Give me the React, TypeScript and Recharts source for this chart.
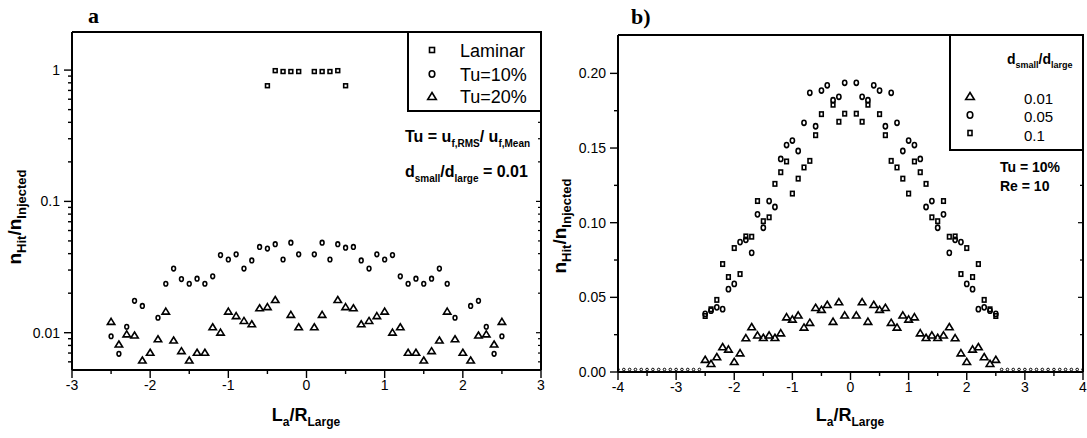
import React from "react";
import { ScatterChart, Scatter, XAxis, YAxis } from "recharts";

const FONT = "Arial, 'Liberation Sans', sans-serif";
const SERIF = "'Times New Roman', 'Liberation Serif', serif";

// ---------- panel a (log scale) ----------
const aPosX = [
  -2.5, -2.4, -2.3, -2.2, -2.1, -2.0, -1.9, -1.8, -1.7, -1.6, -1.5, -1.4, -1.3,
  -1.2, -1.1, -1.0, -0.9, -0.8, -0.7, -0.6, -0.5, -0.4, -0.3, -0.2, -0.1, 0,
  0.1, 0.2, 0.3, 0.4, 0.5, 0.6, 0.7, 0.8, 0.9, 1.0, 1.1, 1.2, 1.3, 1.4, 1.5,
  1.6, 1.7, 1.8, 1.9, 2.0, 2.1, 2.2, 2.3, 2.4, 2.5,
];
const aTu10 = [
  0.0094, 0.0069, 0.0111, 0.0175, 0.016, null, 0.013, 0.0236, 0.0308, 0.0256,
  0.0236, 0.0258, 0.0236, 0.0269, 0.039, 0.0361, 0.0395, 0.0308, 0.0355, 0.045,
  0.0437, 0.0472, 0.0361, 0.0485, 0.0395, null, 0.0395, 0.0485, 0.0361, 0.0472,
  0.0444, 0.045, 0.0355, 0.0308, 0.0395, 0.0361, 0.039, 0.0269, 0.0236, 0.0258,
  0.0236, 0.0258, 0.0308, 0.0236, 0.013, null, 0.016, 0.0175, 0.0111, 0.0069,
  0.0094,
];
const aTu20 = [
  0.0122, 0.0082, 0.0098, 0.0096, 0.0062, 0.0071, 0.009, 0.0146, 0.0088, 0.0073,
  0.0062, 0.0071, 0.0071, 0.0111, 0.0101, 0.0146, 0.0135, 0.0124, 0.0117,
  0.0155, 0.0158, 0.0179, null, 0.0138, 0.0111, null, 0.0111, 0.0138, null,
  0.0179, 0.0158, 0.0155, 0.0117, 0.0124, 0.0135, 0.0146, 0.0101, 0.0111,
  0.0071, 0.0071, 0.0062, 0.0073, 0.0088, 0.0146, 0.009, 0.0071, 0.0062, 0.0096,
  0.0098, 0.0082, 0.0122,
];
const aLamX = [-0.5, -0.4, -0.3, -0.2, -0.1, 0.1, 0.2, 0.3, 0.4, 0.5];
const aLaminar = [0.76, 0.99, 0.975, 0.975, 0.975, 0.975, 0.975, 0.975, 0.99, 0.76];

const aXTicks = [-3, -2.5, -2, -1.5, -1, -0.5, 0, 0.5, 1, 1.5, 2, 2.5, 3];
const aXLabels = [-3, -2, -1, 0, 1, 2, 3];
const aYTicks = [
  0.006, 0.007, 0.008, 0.009, 0.01, 0.02, 0.03, 0.04, 0.05, 0.06, 0.07, 0.08,
  0.09, 0.1, 0.2, 0.3, 0.4, 0.5, 0.6, 0.7, 0.8, 0.9, 1,
];
const aYLabels = [0.01, 0.1, 1];

// ---------- panel b (linear) ----------
const bD001 = [
  0.0085, 0.0058, 0.0103, 0.017, 0.0154, 0.0071, 0.0129, 0.023, 0.0304, 0.0248,
  0.0232, 0.0248, 0.0232, 0.0263, 0.037, 0.0355, 0.0382, 0.0301, 0.0333, 0.0433,
  0.042, 0.0453, 0.034, 0.0471, 0.0382, null, 0.0382, 0.0471, 0.034, 0.0453,
  0.042, 0.0433, 0.0333, 0.0301, 0.0382, 0.0355, 0.037, 0.0263, 0.0232, 0.0248,
  0.0232, 0.0248, 0.0304, 0.023, 0.0129, 0.0071, 0.0154, 0.017, 0.0103, 0.0058,
  0.0085,
];
const bD005 = [
  0.0389, 0.0411, 0.0433, 0.0421, 0.0555, 0.059, 0.087, 0.0885, 0.0798, 0.1056,
  0.0966, 0.1145, 0.1105, 0.1427, 0.152, 0.155, 0.148, 0.1669, 0.187, 0.1646,
  0.1885, 0.192, 0.182, 0.1843, 0.1937, null, 0.1937, 0.1843, 0.182, 0.192,
  0.1885, 0.1646, 0.187, 0.1669, 0.148, 0.155, 0.152, 0.1427, 0.1105, 0.1145,
  0.0966, 0.1056, 0.0798, 0.0885, 0.087, 0.059, 0.0555, 0.0421, 0.0433, 0.0411,
  0.0389,
];
const bD01 = [
  0.0375, 0.042, 0.0483, 0.0723, 0.0636, 0.083, 0.0656, 0.0908, 0.0906, 0.1145,
  0.101, 0.1036, 0.126, 0.1338, 0.141, 0.1195, 0.1295, 0.137, 0.1414, 0.1586,
  0.1727, null, 0.179, 0.1676, 0.173, null, 0.173, 0.1676, 0.179, null, 0.1727,
  0.1586, 0.1414, 0.137, 0.1295, 0.1195, 0.141, 0.1338, 0.126, 0.1036, 0.101,
  0.1145, 0.0906, 0.0908, 0.0656, 0.083, 0.0636, 0.0723, 0.0483, 0.042, 0.0375,
];
const bZeroX = [
  -4, -3.9, -3.8, -3.7, -3.6, -3.5, -3.4, -3.3, -3.2, -3.1, -3, -2.9, -2.8, -2.7,
  -2.6, 2.6, 2.7, 2.8, 2.9, 3, 3.1, 3.2, 3.3, 3.4, 3.5, 3.6, 3.7, 3.8, 3.9, 4,
];
const bZero = [
  0, 0, 0, 0, 0, 0, 0, 0, 0, 0, 0, 0, 0, 0, 0, 0, 0, 0, 0, 0, 0, 0, 0, 0, 0, 0,
  0, 0, 0, 0,
];

const bXTicks = [-4, -3.5, -3, -2.5, -2, -1.5, -1, -0.5, 0, 0.5, 1, 1.5, 2, 2.5, 3, 3.5, 4];
const bXLabels = [-4, -3, -2, -1, 0, 1, 2, 3, 4];
const bYTicks = [0, 0.025, 0.05, 0.075, 0.1, 0.125, 0.15, 0.175, 0.2];
const bYLabels = [0, 0.05, 0.1, 0.15, 0.2];

const pts = (xs: number[], ys: (number | null)[]) =>
  xs.map((x, i) => ({ x, y: ys[i] })).filter((p) => p.y !== null);

// ---------- marker shapes ----------
const SW = 1.6;
const square = (cx: number, cy: number, w: number, h: number) => (
  <rect x={cx - w / 2} y={cy - h / 2} width={w} height={h} fill="none" stroke="#000" strokeWidth={SW} />
);
const ring = (cx: number, cy: number, rx: number, ry: number) => (
  <ellipse cx={cx} cy={cy} rx={rx} ry={ry} fill="none" stroke="#000" strokeWidth={SW} />
);
const tri = (cx: number, cy: number, hw: number, h: number) => (
  <path
    d={`M${cx},${cy - h / 2}L${cx + hw},${cy + h / 2}L${cx - hw},${cy + h / 2}Z`}
    fill="none"
    stroke="#000"
    strokeWidth={SW}
    strokeLinejoin="miter"
  />
);

// ---------- ticks ----------
const isIn = (list: number[], v: number) => list.some((m) => Math.abs(m - v) < 1e-9);

function makeTick(side: "left" | "right" | "top" | "bottom", labels: number[], fmt?: (v: number) => string) {
  return (p: any) => {
    const v = p.payload.value;
    const major = isIn(labels, v);
    const x = p.x;
    const y = p.y;
    if (side === "left") {
      const L = major ? 8 : 4;
      return (
        <g>
          <line x1={x - L} x2={x} y1={y} y2={y} stroke="#000" strokeWidth={1.4} />
          {major && fmt && (
            <text x={x - 12} y={y + 5} textAnchor="end" fontSize={14} fontFamily={FONT} fill="#000">
              {fmt(v)}
            </text>
          )}
        </g>
      );
    }
    if (side === "bottom") {
      const L = major ? 8 : 4;
      return (
        <g>
          <line x1={x} x2={x} y1={y} y2={y + L} stroke="#000" strokeWidth={1.4} />
          {major && fmt && (
            <text x={x} y={y + 20} textAnchor="middle" fontSize={14} fontFamily={FONT} fill="#000">
              {fmt(v)}
            </text>
          )}
        </g>
      );
    }
    const l = major ? 5 : 3;
    if (side === "top") return <line x1={x} x2={x} y1={y} y2={y + l} stroke="#000" strokeWidth={1.2} />;
    return <line x1={x - l} x2={x} y1={y} y2={y} stroke="#000" strokeWidth={1.2} />;
  };
}

const axisLine = { stroke: "#000", strokeWidth: 2 };
const common = { type: "number" as const, interval: 0 as const, tickSize: 0, tickMargin: 0, tickLine: false, axisLine, allowDataOverflow: true };

function PanelA() {
  return (
    <ScatterChart width={560} height={438} margin={{ top: 31, right: 18, bottom: 67, left: 71 }}>
      <XAxis {...common} dataKey="x" domain={[-3, 3]} ticks={aXTicks} height={1}
        tick={makeTick("bottom", aXLabels, (v) => String(v))} />
      <XAxis {...common} xAxisId="t" orientation="top" domain={[-3, 3]} ticks={aXTicks} height={1}
        tick={makeTick("top", aXLabels)} />
      <YAxis {...common} dataKey="y" scale="log" domain={[0.0052, 1.95]} ticks={aYTicks} width={1}
        tick={makeTick("left", aYLabels, (v) => String(v))} />
      <YAxis {...common} yAxisId="r" orientation="right" scale="log" domain={[0.0052, 1.95]} ticks={aYTicks} width={1}
        tick={makeTick("right", aYLabels)} />
      <Scatter name="Laminar" data={pts(aLamX, aLaminar)} isAnimationActive={false}
        shape={(p: any) => square(p.cx, p.cy, 3.8, 3.8)} />
      <Scatter name="Tu=10%" data={pts(aPosX, aTu10)} isAnimationActive={false}
        shape={(p: any) => ring(p.cx, p.cy, 1.9, 2.3)} />
      <Scatter name="Tu=20%" data={pts(aPosX, aTu20)} isAnimationActive={false}
        shape={(p: any) => tri(p.cx, p.cy, 3.7, 6)} />
    </ScatterChart>
  );
}

function PanelB() {
  return (
    <ScatterChart width={542} height={438} margin={{ top: 34, right: 3, bottom: 65, left: 72 }}>
      <XAxis {...common} dataKey="x" domain={[-4, 4]} ticks={bXTicks} height={1}
        tick={makeTick("bottom", bXLabels, (v) => String(v))} />
      <XAxis {...common} xAxisId="t" orientation="top" domain={[-4, 4]} ticks={bXTicks} height={1}
        tick={makeTick("top", bXLabels)} />
      <YAxis {...common} dataKey="y" domain={[0, 0.2257]} ticks={bYTicks} width={1}
        tick={makeTick("left", bYLabels, (v) => v.toFixed(2))} />
      <YAxis {...common} yAxisId="r" orientation="right" domain={[0, 0.2257]} ticks={bYTicks} width={1}
        tick={makeTick("right", bYLabels)} />
      <Scatter name="zero" data={pts(bZeroX, bZero)} isAnimationActive={false}
        shape={(p: any) => (
          <ellipse cx={p.cx} cy={p.cy - 2.5} rx={1.3} ry={1.3} fill="none" stroke="#000" strokeWidth={1} />
        )} />
      <Scatter name="0.01" data={pts(aPosX, bD001)} isAnimationActive={false}
        shape={(p: any) => tri(p.cx, p.cy, 3.8, 6.2)} />
      <Scatter name="0.05" data={pts(aPosX, bD005)} isAnimationActive={false}
        shape={(p: any) => ring(p.cx, p.cy, 2.1, 2.6)} />
      <Scatter name="0.1" data={pts(aPosX, bD01)} isAnimationActive={false}
        shape={(p: any) => square(p.cx, p.cy, 3.6, 4.4)} />
    </ScatterChart>
  );
}

function Overlay() {
  return (
    <svg
      width={1087}
      height={438}
      style={{ position: "absolute", left: 0, top: 0, pointerEvents: "none" }}
      fontFamily={FONT}
    >
      {/* panel titles */}
      <text x={88} y={23} fontFamily={SERIF} fontWeight="bold" fontSize={22}>a</text>
      <text x={631} y={24} fontFamily={SERIF} fontWeight="bold" fontSize={22}>b)</text>

      {/* axis titles */}
      <text transform="translate(21,217) rotate(-90)" textAnchor="middle" fontWeight="bold" fontSize={19}>
        n<tspan fontSize={13} dy={5}>Hit</tspan>
        <tspan dy={-5}>/n</tspan>
        <tspan fontSize={13} dy={5}>Injected</tspan>
      </text>
      <text transform="translate(566,226) rotate(-90)" textAnchor="middle" fontWeight="bold" fontSize={19}>
        n<tspan fontSize={13} dy={5}>Hit</tspan>
        <tspan dy={-5}>/n</tspan>
        <tspan fontSize={13} dy={5}>Injected</tspan>
      </text>
      <text x={306} y={421} textAnchor="middle" fontWeight="bold" fontSize={18}>
        L<tspan fontSize={12} dy={5}>a</tspan>
        <tspan dy={-5}>/R</tspan>
        <tspan fontSize={12} dy={5}>Large</tspan>
      </text>
      <text x={850} y={421} textAnchor="middle" fontWeight="bold" fontSize={18}>
        L<tspan fontSize={12} dy={5}>a</tspan>
        <tspan dy={-5}>/R</tspan>
        <tspan fontSize={12} dy={5}>Large</tspan>
      </text>

      {/* panel a legend */}
      <rect x={408} y={32} width={133} height={79} fill="#fff" stroke="#000" strokeWidth={2} />
      {square(432, 50, 5, 5)}
      {ring(432, 74, 2.8, 3.2)}
      {tri(432, 96, 4.3, 7)}
      <text x={460} y={56.5} fontSize={18}>Laminar</text>
      <text x={460} y={81} fontSize={18}>Tu=10%</text>
      <text x={460} y={103} fontSize={18}>Tu=20%</text>
      <text x={405} y={142} fontWeight="bold" fontSize={16}>
        Tu = u<tspan fontSize={10} dy={5}>f,RMS</tspan>
        <tspan dy={-5}>/ u</tspan>
        <tspan fontSize={10} dy={5}>f,Mean</tspan>
      </text>
      <text x={405} y={177} fontWeight="bold" fontSize={16}>
        d<tspan fontSize={10} dy={5}>small</tspan>
        <tspan dy={-5}>/d</tspan>
        <tspan fontSize={10} dy={5}>large</tspan>
        <tspan dy={-5}> = 0.01</tspan>
      </text>

      {/* panel b legend */}
      <rect x={950} y={35} width={133} height={115} fill="#fff" stroke="#000" strokeWidth={2} />
      <text x={1007} y={64} fontWeight="bold" fontSize={14}>
        d<tspan fontSize={9} dy={4}>small</tspan>
        <tspan dy={-4}>/d</tspan>
        <tspan fontSize={9} dy={4}>large</tspan>
      </text>
      {tri(970, 96, 4.3, 7)}
      {ring(970, 115, 2.8, 3.2)}
      {square(970, 133, 4, 5)}
      <text x={1024} y={103.5} fontSize={15}>0.01</text>
      <text x={1024} y={122} fontSize={15}>0.05</text>
      <text x={1024} y={140.5} fontSize={15}>0.1</text>
      <text x={1000} y={172} fontWeight="bold" fontSize={14}>Tu = 10%</text>
      <text x={1000} y={191} fontWeight="bold" fontSize={14}>Re = 10</text>
    </svg>
  );
}

export default function App() {
  return (
    <div
      style={{
        position: "absolute",
        left: 0,
        top: 0,
        width: 1087,
        height: 438,
        background: "#fff",
        fontFamily: FONT,
      }}
    >
      <div style={{ position: "absolute", left: 0, top: 0 }}>
        <PanelA />
      </div>
      <div style={{ position: "absolute", left: 545, top: 0 }}>
        <PanelB />
      </div>
      <Overlay />
    </div>
  );
}
